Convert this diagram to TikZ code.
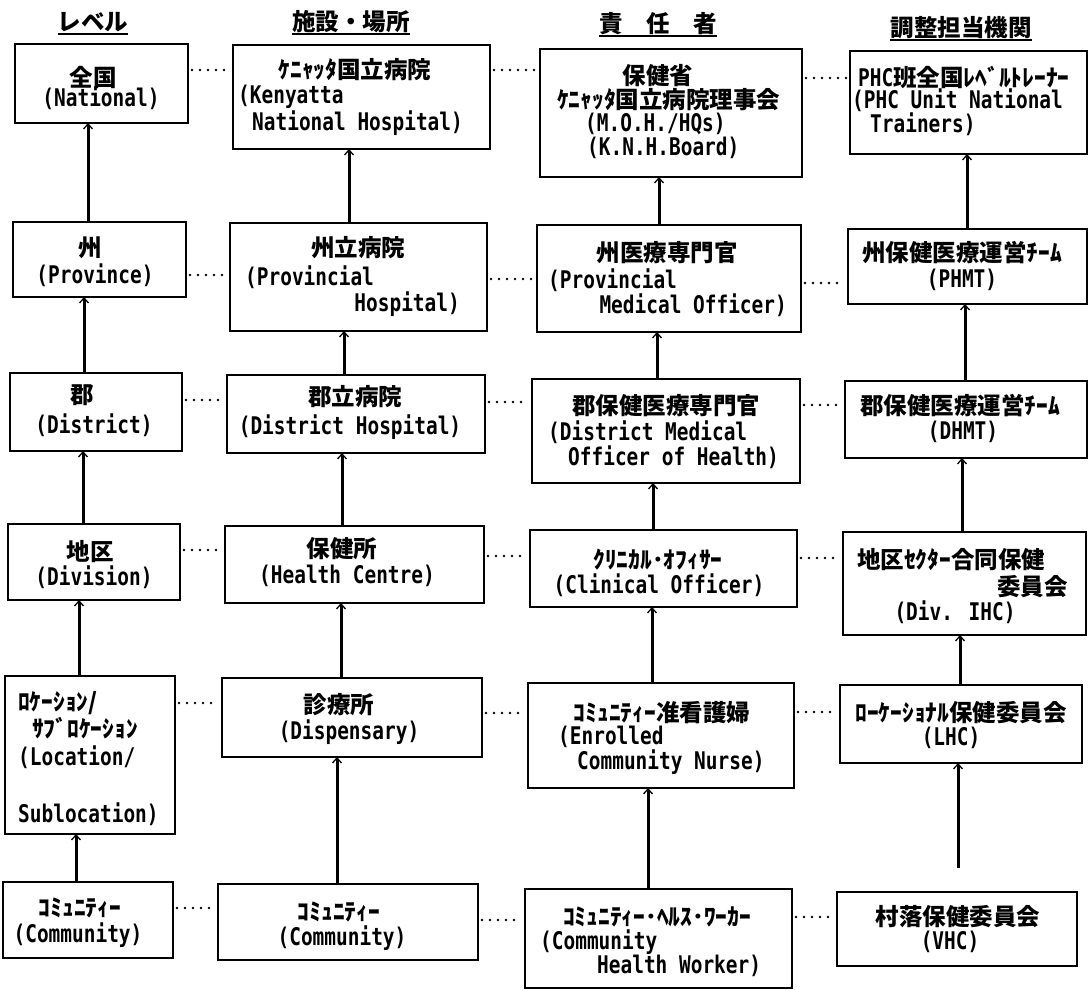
\documentclass[tikz,border=0pt]{standalone}
\usepackage{fontspec}
\usetikzlibrary{arrows.meta}
\newfontfamily\enff{DejaVu Sans Mono}[FakeStretch=0.8]
\newfontfamily\jpff{Noto Sans CJK JP}
\newcommand{\enfont}{\enff\bfseries\fontsize{24.3}{28}\selectfont}
\newcommand{\jpfont}{\jpff\bfseries\fontsize{23.5}{28}\selectfont}
\newcommand{\bx}[5]{\node[box, minimum width={#4-#2}, minimum height={#5-#3}] (#1) at ({(#2+#4)/2},{(#3+#5)/2}) {};}
\newcommand{\upline}[3]{\draw[arr] (#1.north -| #3,0) -- (#2.south -| #3,0);}
\newcommand{\dotl}[3]{\draw[dotline] (#1.east |- 0,#3) -- (#2.west |- 0,#3);}
\tikzset{
  box/.style={draw, line width=2.8pt, rectangle, inner sep=0pt, outer sep=0pt},
  en/.style={inner sep=0pt, font=\enfont},
  jp/.style={inner sep=0pt, font=\jpfont},
  arr/.style={line width=3pt, -{Straight Barb[length=5pt,width=9pt,line width=1.3pt]}},
  dotline/.style={line width=2.8pt, line cap=round, dash pattern=on 0pt off 8pt, shorten <=4pt, shorten >=4pt},
  uline/.style={line width=1.6pt},
}
\begin{document}
\begin{tikzpicture}[x=1pt,y=-1pt]
\fill[white] (0,0) rectangle (1089,990);
\useasboundingbox (0,0) rectangle (1089,990);

% headers
\node[jp] (h1) at (93,22) {レベル};
\node[jp] (h2) at (351,22) {施設・場所};
\node[jp] (h3) at (658,24) {責　任　者};
\node[jp] (h4) at (961,28) {調整担当機関};
\draw[uline] (h1.west |- 0,34) -- (h1.east |- 0,34);
\draw[uline] (h2.west |- 0,34) -- (h2.east |- 0,34);
\draw[uline] (h3.west |- 0,36) -- (h3.east |- 0,36);
\draw[uline] (h4.west |- 0,40) -- (h4.east |- 0,40);

% boxes column 1
\bx{c1r1}{15}{44}{188}{123}
\bx{c1r2}{13}{222}{186}{297}
\bx{c1r3}{10}{373}{182}{451}
\bx{c1r4}{8}{524}{180}{600}
\bx{c1r5}{5}{676}{175}{834}
\bx{c1r6}{3}{882}{173}{958}
% column 2
\bx{c2r1}{233}{45}{490}{149}
\bx{c2r2}{230}{223}{487}{331}
\bx{c2r3}{227}{375}{485}{453}
\bx{c2r4}{225}{526}{484}{603}
\bx{c2r5}{222}{678}{482}{757}
\bx{c2r6}{218}{884}{478}{960}
% column 3
\bx{c3r1}{540}{49}{802}{177}
\bx{c3r2}{537}{225}{801}{332}
\bx{c3r3}{532}{379}{800}{483}
\bx{c3r4}{530}{530}{797}{607}
\bx{c3r5}{528}{683}{794}{788}
\bx{c3r6}{525}{889}{792}{988}
% column 4
\bx{c4r1}{850}{51}{1087}{154}
\bx{c4r2}{848}{229}{1087}{304}
\bx{c4r3}{845}{381}{1087}{458}
\bx{c4r4}{843}{532}{1086}{635}
\bx{c4r5}{840}{685}{1082}{763}
\bx{c4r6}{837}{892}{1077}{966}

% texts column 1
\node[jp] (t11a) at (93,77) {全国};
\node[en] (t11b) at (101,98) {(National)};
\node[jp] (t12a) at (90,248) {州};
\node[en] (t12b) at (95,275) {(Province)};
\node[jp] (t13a) at (82,395) {郡};
\node[en] (t13b) at (94,425) {(District)};
\node[jp] (t14a) at (90,552) {地区};
\node[en] (t14b) at (94,577) {(Division)};
\node[jp, anchor=west] (t15a) at (18,703) {ﾛｹｰｼｮﾝ/};
\node[jp, anchor=west] (t15b) at (32,728) {ｻﾌﾞﾛｹｰｼｮﾝ};
\node[en, anchor=west] (t15c) at (18,757) {(Location/};
\node[en, anchor=west] (t15d) at (18,814) {Sublocation)};
\node[jp] (t16a) at (80,908) {ｺﾐｭﾆﾃｨｰ};
\node[en] (t16b) at (78,935) {(Community)};

% texts column 2
\node[jp] (t21a) at (355,70) {ｹﾆｬｯﾀ国立病院};
\node[en, anchor=west] (t21b) at (238,97) {(Kenyatta};
\node[en, anchor=west] (t21c) at (252,123) {National Hospital)};
\node[jp] (t22a) at (358,248) {州立病院};
\node[en, anchor=west] (t22b) at (245,277) {(Provincial};
\node[en, anchor=east] (t22c) at (460,304) {Hospital)};
\node[jp] (t23a) at (355,397) {郡立病院};
\node[en] (t23b) at (350,427) {(District Hospital)};
\node[jp] (t24a) at (342,549) {保健所};
\node[en] (t24b) at (347,576) {(Health Centre)};
\node[jp] (t25a) at (339,705) {診療所};
\node[en] (t25b) at (349,732) {(Dispensary)};
\node[jp] (t26a) at (339,912) {ｺﾐｭﾆﾃｨｰ};
\node[en] (t26b) at (342,938) {(Community)};

% texts column 3
\node[jp] (t31a) at (658,76) {保健省};
\node[jp, anchor=west] (t31b) at (557,100) {ｹﾆｬｯﾀ国立病院理事会};
\node[en, anchor=west] (t31c) at (585,124) {(M.O.H./HQs)};
\node[en, anchor=west] (t31d) at (587,148) {(K.N.H.Board)};
\node[jp] (t32a) at (667,253) {州医療専門官};
\node[en, anchor=west] (t32b) at (548,280) {(Provincial};
\node[en, anchor=east] (t32c) at (787,305) {Medical Officer)};
\node[jp] (t33a) at (666,406) {郡保健医療専門官};
\node[en, anchor=west] (t33b) at (548,432) {(District Medical};
\node[en, anchor=west] (t33c) at (568,457) {Officer of Health)};
\node[jp] (t34a) at (658,560) {ｸﾘﾆｶﾙ･ｵﾌｨｻｰ};
\node[en] (t34b) at (659,585) {(Clinical Officer)};
\node[jp] (t35a) at (662,713) {ｺﾐｭﾆﾃｨｰ准看護婦};
\node[en, anchor=west] (t35b) at (558,737) {(Enrolled};
\node[en, anchor=west] (t35c) at (577,762) {Community Nurse)};
\node[jp] (t36a) at (657,917) {ｺﾐｭﾆﾃｨｰ･ﾍﾙｽ･ﾜｰｶｰ};
\node[en, anchor=west] (t36b) at (540,942) {(Community};
\node[en, anchor=west] (t36c) at (597,966) {Health Worker)};

% texts column 4
\node[anchor=west, inner sep=0pt] (t41a) at (858,77) {{\enfont PHC}{\jpfont 班全国ﾚﾍﾞﾙﾄﾚｰﾅｰ}};
\node[en, anchor=west] (t41b) at (852,100) {(PHC Unit National};
\node[en, anchor=west] (t41c) at (870,124) {Trainers)};
\node[jp] (t42a) at (962,253) {州保健医療運営ﾁｰﾑ};
\node[en] (t42b) at (962,280) {(PHMT)};
\node[jp] (t43a) at (960,406) {郡保健医療運営ﾁｰﾑ};
\node[en] (t43b) at (963,432) {(DHMT)};
\node[jp, anchor=west] (t44a) at (857,560) {地区ｾｸﾀｰ合同保健};
\node[jp, anchor=east] (t44b) at (1068,587) {委員会};
\node[en] (t44c) at (955,612) {(Div. IHC)};
\node[jp] (t45a) at (961,713) {ﾛｰｹｰｼｮﾅﾙ保健委員会};
\node[en] (t45b) at (951,738) {(LHC)};
\node[jp] (t46a) at (958,917) {村落保健委員会};
\node[en] (t46b) at (950,942) {(VHC)};

% vertical arrows
\upline{c1r2}{c1r1}{88}
\upline{c1r3}{c1r2}{84}
\upline{c1r4}{c1r3}{83}
\upline{c1r5}{c1r4}{79}
\upline{c1r6}{c1r5}{76}
\upline{c2r2}{c2r1}{349}
\upline{c2r3}{c2r2}{344}
\upline{c2r4}{c2r3}{342}
\upline{c2r5}{c2r4}{341}
\upline{c2r6}{c2r5}{337}
\upline{c3r2}{c3r1}{659}
\upline{c3r3}{c3r2}{657}
\upline{c3r4}{c3r3}{653}
\upline{c3r5}{c3r4}{652}
\upline{c3r6}{c3r5}{648}
\upline{c4r2}{c4r1}{967}
\upline{c4r3}{c4r2}{965}
\upline{c4r4}{c4r3}{962}
\upline{c4r5}{c4r4}{960}
\draw[arr, shorten <=24pt] (c4r6.north -| 958,0) -- (c4r5.south -| 958,0);

% dotted links
\dotl{c1r1}{c2r1}{70}
\dotl{c2r1}{c3r1}{70}
\dotl{c3r1}{c4r1}{78}
\dotl{c1r2}{c2r2}{275}
\dotl{c2r2}{c3r2}{279}
\dotl{c3r2}{c4r2}{283}
\dotl{c1r3}{c2r3}{400}
\dotl{c2r3}{c3r3}{402}
\dotl{c3r3}{c4r3}{405}
\dotl{c1r4}{c2r4}{550}
\dotl{c2r4}{c3r4}{556}
\dotl{c3r4}{c4r4}{558}
\dotl{c1r5}{c2r5}{703}
\dotl{c2r5}{c3r5}{713}
\dotl{c3r5}{c4r5}{712}
\dotl{c1r6}{c2r6}{908}
\dotl{c2r6}{c3r6}{920}
\dotl{c3r6}{c4r6}{917}
\end{tikzpicture}
\end{document}
